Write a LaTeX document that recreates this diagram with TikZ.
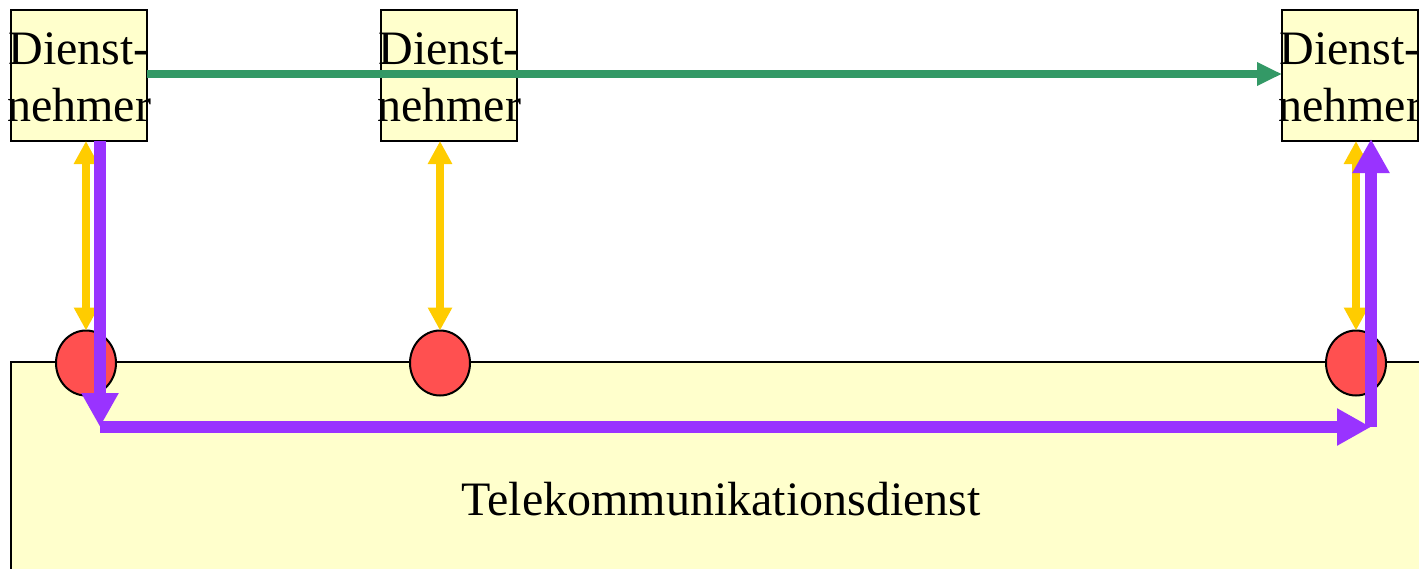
\documentclass[tikz,border=0pt]{standalone}
\usepackage{fontspec}
\setmainfont{Liberation Serif}
\usetikzlibrary{arrows.meta,shapes.geometric,calc}
\definecolor{boxyellow}{HTML}{FFFFCC}
\definecolor{dotred}{HTML}{FF5050}
\definecolor{arryellow}{HTML}{FFCC00}
\definecolor{arrpurple}{HTML}{9933FF}
\definecolor{arrgreen}{HTML}{339966}
\begin{document}
\begin{tikzpicture}[x=1pt,y=-1pt,
  userbox/.style={draw=black,line width=2.5pt,fill=boxyellow,minimum width=136pt,minimum height=131pt,inner sep=0pt,outer sep=0pt},
  usertext/.style={font=\fontsize{48}{57}\selectfont,align=center,inner sep=0pt},
  dot/.style={ellipse,draw=black,line width=2pt,fill=dotred,minimum width=60pt,minimum height=65pt,inner sep=0pt,outer sep=0pt},
  yarrow/.style={draw=arryellow,line width=8pt,{Triangle[length=23pt,width=23pt]}-{Triangle[length=23pt,width=23pt]},shorten <=0pt},
  parrow/.style={draw=arrpurple,line width=12pt,-{Triangle[length=34pt,width=35pt]}},
  garrow/.style={draw=arrgreen,line width=8pt,-{Triangle[length=25pt,width=22pt]}}]
\useasboundingbox (0,0) rectangle (1419,568);
% service area
\draw[draw=black,line width=2pt,fill=boxyellow] (11,362) rectangle (1440,590);
\node[font=\fontsize{48}{57}\selectfont,anchor=base] (tk) at (721,515) {Telekommunikationsdienst};
% access points
\node[dot] (c1) at (86,363) {};
\node[dot] (c2) at (440,363) {};
\node[dot] (c3) at (1356,363) {};
% users
\node[userbox] (b1) at (79,75.5) {};
\node[userbox] (b2) at (449,75.5) {};
\node[userbox] (b3) at (1350,75.5) {};
\node[usertext] (t1) at ($(b1.center)+(0,1.5)$) {Dienst-\\nehmer};
\node[usertext] (t2) at ($(b2.center)+(0,1.5)$) {Dienst-\\nehmer};
\node[usertext] (t3) at ($(b3.center)+(0,1.5)$) {Dienst-\\nehmer};
% yellow access arrows
\draw[yarrow] (c1.north |- b1.south) -- (c1.north);
\draw[yarrow] (c2.north |- b2.south) -- (c2.north);
\draw[yarrow] (c3.north |- b3.south) -- (c3.north);
% purple path through the service
\coordinate (p1) at (100,141);
\coordinate (p2) at (100,427);
\coordinate (p3) at (1371,427);
\coordinate (p4) at (1371,139);
\draw[parrow] (p1) -- (p2);
\draw[parrow] (p2) -- (p3);
\draw[parrow] (p3) -- (p4);
% green direct arrow
\draw[garrow] ($(b1.east)+(0,-1.5)$) -- ($(b3.west)+(0,-1.5)$);
\end{tikzpicture}
\end{document}
